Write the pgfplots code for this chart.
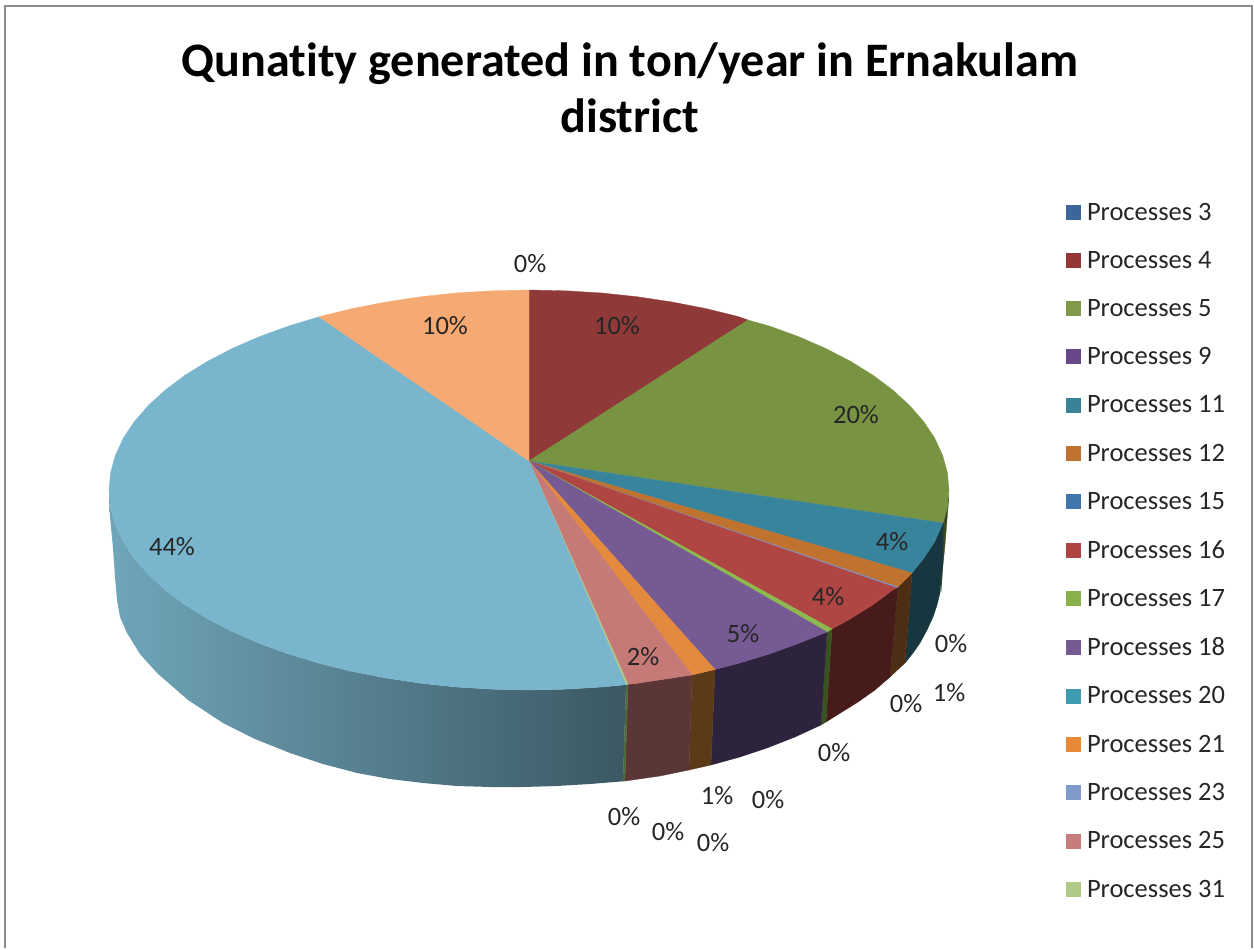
\documentclass[border=0pt]{standalone}
\usepackage{fontspec}
\setmainfont[Ligatures=NoCommon]{Carlito}
\usepackage{pgfplots}
\pgfplotsset{compat=1.18}
\definecolor{t4}{HTML}{8F3A38}\definecolor{t5}{HTML}{789342}\definecolor{t11}{HTML}{37849C}
\definecolor{t12}{HTML}{C0722F}\definecolor{t15}{HTML}{7F8FC0}\definecolor{t16}{HTML}{AF4644}
\definecolor{t17}{HTML}{8FB84E}\definecolor{t18}{HTML}{755A94}\definecolor{t21}{HTML}{E38A3F}
\definecolor{t25}{HTML}{C67A78}\definecolor{t31}{HTML}{B0C986}\definecolor{tbig}{HTML}{79B6CD}
\definecolor{tpeach}{HTML}{F5A973}
\definecolor{s5}{HTML}{3A4A20}\definecolor{s11}{HTML}{183640}\definecolor{s12}{HTML}{4D2D13}
\definecolor{s16}{HTML}{471B19}\definecolor{s17}{HTML}{3A5220}\definecolor{s18}{HTML}{2E233C}
\definecolor{s21}{HTML}{5B3A17}\definecolor{s25}{HTML}{5A3636}\definecolor{s31}{HTML}{4E6A3A}
\definecolor{sbigL}{HTML}{70A6BA}\definecolor{sbigR}{HTML}{3B5863}
\definecolor{l3}{HTML}{3B659B}\definecolor{l4}{HTML}{953735}\definecolor{l5}{HTML}{7F9A48}
\definecolor{l9}{HTML}{67498A}\definecolor{l11}{HTML}{38839A}\definecolor{l12}{HTML}{BF7230}
\definecolor{l15}{HTML}{4075AE}\definecolor{l16}{HTML}{AE4543}\definecolor{l17}{HTML}{8AB04A}
\definecolor{l18}{HTML}{755A94}\definecolor{l20}{HTML}{3F9BB0}\definecolor{l21}{HTML}{E88A35}
\definecolor{l23}{HTML}{7E9BC9}\definecolor{l25}{HTML}{C77C7B}\definecolor{l31}{HTML}{AFC987}
\pgfplotsset{slice/.style={fill=#1,draw=#1,line width=0.3pt,forget plot,mark=none}}
\newcommand{\lab}[3]{\node[font=\fontsize{26.5}{30}\selectfont,text=black!85] at (axis cs:#1,#2) {#3};}
\begin{document}
\begin{tikzpicture}
\path (0,0) rectangle (1254pt,948pt);
\begin{axis}[
  at={(0,0)},anchor=south west,
  scale only axis,width=1254pt,height=948pt,
  xmin=0,xmax=1254,ymin=0,ymax=948,y dir=reverse,
  hide axis,clip=false,
  legend style={at={(axis cs:1066,202)},anchor=north west,draw=none,fill=none,
    font=\fontsize{26.5}{30}\selectfont,text=black!85,row sep=27.6pt,
    inner sep=0pt,outer sep=0pt,
    nodes={inner sep=1pt,anchor=west}},
  legend cell align=left,
  legend image code/.code={\fill[#1] (0pt,-7.5pt) rectangle (15pt,7.5pt);\path (20pt,0pt);},
]
% frame
\addplot[color=black!45,line width=2.5pt,forget plot,mark=none] coordinates {(5,948) (5,6) (1252,6) (1252,948)};
% sides
\addplot[slice=s5] coordinates {(949,495) (946.5,510) (943,523) (941,592) (943,565) (945,545)} --cycle;
\addplot[slice=s11] coordinates {(943,523) (934.7,541.8) (923.7,558.4) (912,573) (905,663) (913,653) (920,643) (927,630) (933,617) (937,605) (940,593) (943,560)} --cycle;
\addplot[slice=s12] coordinates {(912,573) (898,587) (890,677) (905,663)} --cycle;
\addplot[slice=s16] coordinates {(898,587) (892.7,590) (873.1,604.7) (850.7,618.6) (832,629) (826,722) (842,712) (858,702) (875,690) (890,677)} --cycle;
\addplot[slice=s17] coordinates {(832,629) (827,632) (821,725) (826,722)} --cycle;
\addplot[slice=s18] coordinates {(827,632) (799,643.2) (769.9,653.8) (739,663.2) (715,669.5) (711,765) (740,757) (767,748) (795,737) (821,725)} --cycle;
\addplot[slice=s21] coordinates {(715,669.5) (692,675) (689,770) (711,765)} --cycle;
\addplot[slice=s25] coordinates {(692,675) (672.6,677.9) (637.7,683.2) (628,684.3) (625,781) (660,776) (689,770)} --cycle;
\addplot[slice=s31] coordinates {(628,684.3) (626,684.7) (623,781.3) (625,781)} --cycle;
\addplot[draw=none,left color=sbigL,right color=sbigR,forget plot,mark=none] coordinates {
 (626,684.7) (601.9,687) (565.6,689.2) (529,690) (492.4,689.2) (456.1,687) (420.3,683.2) (385.4,677.9) (351.5,671.3) (319,663.2) (288.1,653.8) (259,643.2) (232,631.4) (207.3,618.6) (184.9,604.7) (165.3,590) (148.4,574.5) (134.3,558.4) (123.3,541.8) (115.4,524.7) (110.6,507.4) (109,490)
 (109,500) (110,517) (113,548) (115,577) (117,600) (120,617) (127,633) (140,654) (157,673) (188,700) (223,723) (255,739) (290,753) (323,764) (357,773) (390,779) (423,783) (457,786) (490,787) (523,787) (557,786) (590,784) (623,781.3)} --cycle;
% top faces
\addplot[slice=t4] coordinates {(529,461) (529,290) (565.6,290.8) (601.9,293) (637.7,296.8) (672.6,302.1) (706.5,308.7) (739,316.8) (748,320)} --cycle;
\addplot[slice=t5] coordinates {(529,461) (748,320) (769.9,326.2) (799,336.8) (826,348.6) (850.7,361.4) (873.1,375.3) (892.7,390) (909.6,405.5) (923.7,421.6) (934.7,438.2) (942.6,455.3) (947.4,472.6) (949,490) (947.4,507.4) (943,523)} --cycle;
\addplot[slice=t11] coordinates {(529,461) (943,523) (934.7,541.8) (923.7,558.4) (912,573)} --cycle;
\addplot[slice=t12] coordinates {(529,461) (912,573) (898,587)} --cycle;
\addplot[slice=t15] coordinates {(529,461) (898,587) (896.5,588)} --cycle;
\addplot[slice=t16] coordinates {(529,461) (896.5,588) (892.7,590) (873.1,604.7) (850.7,618.6) (832,629)} --cycle;
\addplot[slice=t17] coordinates {(529,461) (832,629) (827,632)} --cycle;
\addplot[slice=t18] coordinates {(529,461) (827,632) (799,643.2) (769.9,653.8) (739,663.2) (715,669.5)} --cycle;
\addplot[slice=t21] coordinates {(529,461) (715,669.5) (692,675)} --cycle;
\addplot[slice=t25] coordinates {(529,461) (692,675) (672.6,677.9) (637.7,683.2) (628,684.3)} --cycle;
\addplot[slice=t31] coordinates {(529,461) (628,684.3) (626,684.7)} --cycle;
\addplot[slice=tbig] coordinates {(529,461) (626,684.7) (601.9,687) (565.6,689.2) (529,690) (492.4,689.2) (456.1,687) (420.3,683.2) (385.4,677.9) (351.5,671.3) (319,663.2) (288.1,653.8) (259,643.2) (232,631.4) (207.3,618.6) (184.9,604.7) (165.3,590) (148.4,574.5) (134.3,558.4) (123.3,541.8) (115.4,524.7) (110.6,507.4) (109,490) (110.6,472.6) (115.4,455.3) (123.3,438.2) (134.3,421.6) (148.4,405.5) (165.3,390) (184.9,375.3) (207.3,361.4) (232,348.6) (259,336.8) (288.1,326.2) (319,316.8)} --cycle;
\addplot[slice=tpeach] coordinates {(529,461) (319,316.8) (351.5,308.7) (385.4,302.1) (420.3,296.8) (456.1,293) (492.4,290.8) (529,290)} --cycle;
% legend
\addlegendimage{fill=l3,draw=none}\addlegendentry{Processes 3}
\addlegendimage{fill=l4,draw=none}\addlegendentry{Processes 4}
\addlegendimage{fill=l5,draw=none}\addlegendentry{Processes 5}
\addlegendimage{fill=l9,draw=none}\addlegendentry{Processes 9}
\addlegendimage{fill=l11,draw=none}\addlegendentry{Processes 11}
\addlegendimage{fill=l12,draw=none}\addlegendentry{Processes 12}
\addlegendimage{fill=l15,draw=none}\addlegendentry{Processes 15}
\addlegendimage{fill=l16,draw=none}\addlegendentry{Processes 16}
\addlegendimage{fill=l17,draw=none}\addlegendentry{Processes 17}
\addlegendimage{fill=l18,draw=none}\addlegendentry{Processes 18}
\addlegendimage{fill=l20,draw=none}\addlegendentry{Processes 20}
\addlegendimage{fill=l21,draw=none}\addlegendentry{Processes 21}
\addlegendimage{fill=l23,draw=none}\addlegendentry{Processes 23}
\addlegendimage{fill=l25,draw=none}\addlegendentry{Processes 25}
\addlegendimage{fill=l31,draw=none}\addlegendentry{Processes 31}
% title
\node[font=\bfseries\fontsize{48.1}{56}\selectfont,align=center,text=black] at (axis cs:630,88) {Qunatity generated in ton/year in Ernakulam\\district};
% labels
\lab{530}{264}{0\%}\lab{445}{326}{10\%}\lab{617}{326}{10\%}\lab{856}{415}{20\%}
\lab{892}{542}{4\%}\lab{828}{597}{4\%}\lab{743}{634}{5\%}\lab{643}{657}{2\%}
\lab{172}{547}{44\%}\lab{951}{644}{0\%}\lab{949}{693}{1\%}\lab{906}{704}{0\%}
\lab{834}{753}{0\%}\lab{768}{800}{0\%}\lab{717}{796}{1\%}\lab{624}{817}{0\%}
\lab{668}{832}{0\%}\lab{713}{843}{0\%}
\end{axis}
\end{tikzpicture}
\end{document}
